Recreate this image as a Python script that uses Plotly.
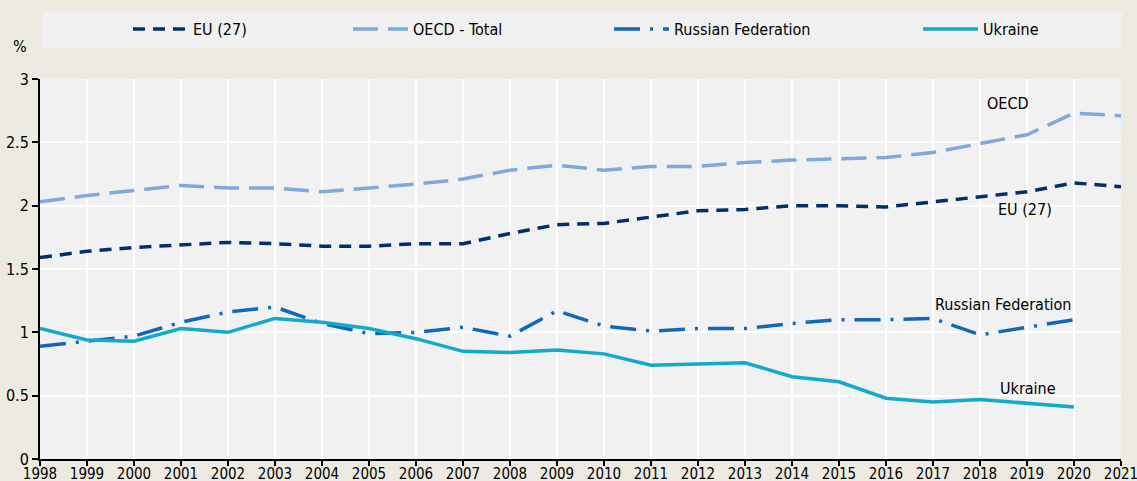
import plotly.graph_objects as go

years = list(range(1998, 2022))
eu27 = [1.59, 1.64, 1.67, 1.69, 1.71, 1.70, 1.68, 1.68, 1.70, 1.70, 1.78, 1.85,
        1.86, 1.91, 1.96, 1.97, 2.00, 2.00, 1.99, 2.03, 2.07, 2.11, 2.18, 2.15]
oecd = [2.03, 2.08, 2.12, 2.16, 2.14, 2.14, 2.11, 2.14, 2.17, 2.21, 2.28, 2.32,
        2.28, 2.31, 2.31, 2.34, 2.36, 2.37, 2.38, 2.42, 2.49, 2.56, 2.73, 2.71]
russia = [0.89, 0.93, 0.97, 1.08, 1.16, 1.20, 1.07, 0.99, 1.00, 1.04, 0.97, 1.17,
          1.05, 1.01, 1.03, 1.03, 1.07, 1.10, 1.10, 1.11, 0.98, 1.04, 1.10, None]
ukraine = [1.03, 0.94, 0.93, 1.03, 1.00, 1.11, 1.08, 1.03, 0.95, 0.85, 0.84, 0.86,
           0.83, 0.74, 0.75, 0.76, 0.65, 0.61, 0.48, 0.45, 0.47, 0.44, 0.41, None]
tick_years = years
y_ticks = [0, 0.5, 1, 1.5, 2, 2.5, 3]
y_tick_text = ["0", "0.5", "1", "1.5", "2", "2.5", "3"]

FONT = "Liberation Sans Narrow, Arial Narrow, DejaVu Sans Condensed, Roboto Condensed, Liberation Sans, sans-serif"

W, H = 1137, 481
L, R, T, B = 40, 16, 79, 22
pw = W - L - R
ph = H - T - B

def px_x(p):
    return (p - L) / pw

def px_y(p):
    return (H - B - p) / ph

fig = go.Figure()
fig.add_trace(go.Scatter(x=years, y=eu27, name="EU (27)", mode="lines",
                         line=dict(color="#002F6C", width=3.5, dash="12px,8px"),
                         legend="legend"))
fig.add_trace(go.Scatter(x=years, y=oecd, name="OECD - Total", mode="lines",
                         line=dict(color="#7FA8DC", width=3.5, dash="25px,10px"),
                         legend="legend2"))
fig.add_trace(go.Scatter(x=years, y=russia, name="Russian Federation", mode="lines",
                         line=dict(color="#1068B8", width=3.5, dash="26px,10px,3px,10px"),
                         legend="legend3"))
fig.add_trace(go.Scatter(x=years, y=ukraine, name="Ukraine", mode="lines",
                         line=dict(color="#12AACB", width=3.5),
                         legend="legend4"))

leg_common = dict(bgcolor="rgba(0,0,0,0)", font=dict(family=FONT, size=16, color="#000"),
                  xref="paper", yref="paper", xanchor="left", yanchor="middle",
                  y=px_y(29), borderwidth=0, itemwidth=55)
fig.update_layout(
    legend=dict(x=px_x(128), **leg_common),
    legend2=dict(x=px_x(348), **leg_common),
    legend3=dict(x=px_x(609), **leg_common),
    legend4=dict(x=px_x(918), **leg_common),
)

fig.add_shape(type="rect", xref="paper", yref="paper",
              x0=px_x(42), x1=px_x(1122), y0=px_y(48), y1=px_y(12),
              fillcolor="#F0F0F0", line=dict(width=0), layer="below")

annos = [
    ("OECD", 2018.6, 2.81),
    ("EU (27)", 2018.95, 1.97),
    ("Russian Federation", 2018.5, 1.22),
    ("Ukraine", 2019.02, 0.555),
]
for text, ax, ay in annos:
    fig.add_annotation(x=ax, y=ay, text=text, showarrow=False,
                       font=dict(family=FONT, size=16, color="#000"),
                       xanchor="center", yanchor="middle")

fig.add_annotation(xref="paper", yref="paper", x=px_x(20), y=px_y(46), text="%",
                   showarrow=False, font=dict(family=FONT, size=16, color="#000"),
                   xanchor="center", yanchor="middle")

fig.update_layout(
    width=W, height=H,
    margin=dict(l=L, r=R, t=T, b=B, pad=0, autoexpand=False),
    paper_bgcolor="#EDEBE1",
    plot_bgcolor="#F1F1F1",
    showlegend=True,
    font=dict(family=FONT, size=16, color="#000"),
    xaxis=dict(range=[1998, 2021], tickmode="array", tickvals=tick_years,
               ticktext=[str(y) for y in tick_years],
               showgrid=True, gridcolor="#FFFFFF", gridwidth=2,
               showline=True, linecolor="#000", linewidth=2,
               ticks="outside", ticklen=5, tickwidth=1.5, tickcolor="#000",
               ticklabelstandoff=-5, ticklabeloverflow="allow",
               tickfont=dict(family=FONT, size=15, color="#000"),
               zeroline=False, fixedrange=True, automargin=False),
    yaxis=dict(range=[0, 3], tickmode="array", tickvals=y_ticks, ticktext=y_tick_text,
               showgrid=True, gridcolor="#FFFFFF", gridwidth=2,
               showline=True, linecolor="#000", linewidth=2,
               ticks="outside", ticklen=6, tickwidth=1.5, tickcolor="#000",
               tickfont=dict(family=FONT, size=16, color="#000"),
               zeroline=False, fixedrange=True, automargin=False),
)

fig.write_html("out.html", config={"displayModeBar": False},
               post_script="document.body.style.margin='0';document.body.style.overflow='hidden';")
